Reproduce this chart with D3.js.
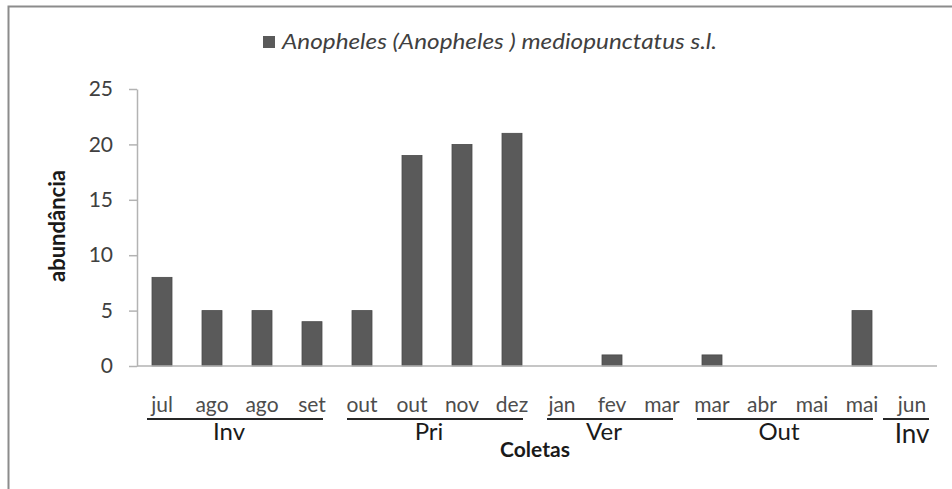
<!DOCTYPE html>
<html>
<head>
<meta charset="utf-8">
<script src="https://cdn.jsdelivr.net/npm/d3@7"></script>
<style>
  body { margin: 0; background: #fff; }
  svg { display: block; font-family: Lato, 'Open Sans', sans-serif; }
</style>
</head>
<body>
<svg width="952" height="489"></svg>
<script>
// data
const months = ['jul', 'ago', 'ago', 'set', 'out', 'out', 'nov', 'dez',
  'jan', 'fev', 'mar', 'mar', 'abr', 'mai', 'mai', 'jun'];
const abundance = [8, 5, 5, 4, 5, 19, 20, 21, 0, 1, 0, 1, 0, 0, 5, 0];
const seasons = ['Inv', 'Pri', 'Ver', 'Out', 'Inv'];
const seasonSpan = [[0, 3], [4, 7], [8, 10], [11, 14], [15, 15]];
const yTicks = [0, 5, 10, 15, 20, 25];
const seriesName = 'Anopheles (Anopheles ) mediopunctatus s.l.';

const svg = d3.select('svg');
const plotLeft = 137, plotRight = 937, plotTop = 89, plotBottom = 366;

// outer frame, cut off at right and bottom like the source
svg.append('rect')
  .attr('x', 8.5).attr('y', 6.5)
  .attr('width', 1000).attr('height', 1000)
  .attr('fill', 'none')
  .attr('stroke', '#8c8c8c')
  .attr('stroke-width', 2);

const x = d3.scaleBand()
  .domain(d3.range(months.length))
  .range([plotLeft, plotRight])
  .paddingInner(0.6)
  .paddingOuter(0.3);

const y = d3.scaleLinear().domain([0, 25]).range([plotBottom, plotTop]);

// y axis
const yAxis = svg.append('g')
  .attr('transform', `translate(${plotLeft},0)`)
  .call(d3.axisLeft(y).tickValues(yTicks).tickSize(8).tickPadding(16).tickSizeOuter(0));
yAxis.selectAll('line, path').attr('stroke', '#b3b3b3').attr('stroke-width', 1.5);
yAxis.selectAll('text')
  .attr('font-size', 21)
  .attr('fill', '#404040')
  .attr('font-family', 'Lato, sans-serif');

// bars
svg.append('g')
  .selectAll('rect')
  .data(abundance)
  .join('rect')
  .attr('x', (d, i) => x(i))
  .attr('y', d => y(d))
  .attr('width', x.bandwidth())
  .attr('height', d => y(0) - y(d))
  .attr('fill', '#5a5a5a')
  .attr('stroke', '#4a4a4a')
  .attr('stroke-width', 0.8);

// x axis line
svg.append('line')
  .attr('x1', plotLeft).attr('x2', plotRight)
  .attr('y1', plotBottom).attr('y2', plotBottom)
  .attr('stroke', '#b3b3b3')
  .attr('stroke-width', 1.5);

// month labels
svg.append('g')
  .selectAll('text')
  .data(months)
  .join('text')
  .attr('x', (d, i) => x(i) + x.bandwidth() / 2)
  .attr('y', 412)
  .attr('text-anchor', 'middle')
  .attr('font-size', 21)
  .attr('fill', '#4d4d4d')
  .text(d => d);

// season brackets
const step = x.step();
const sg = svg.append('g');
seasonSpan.forEach((s, k) => {
  const x0 = plotLeft + s[0] * step + 10;
  const x1 = plotLeft + (s[1] + 1) * step - 14;
  sg.append('line')
    .attr('x1', k === 4 ? x0 - 14 : x0).attr('x2', k === 4 ? x1 + 6 : x1)
    .attr('y1', 419).attr('y2', 419)
    .attr('stroke', '#262626')
    .attr('stroke-width', 2);
  sg.append('text')
    .attr('x', (x0 + x1) / 2 - (k === 4 ? -2 : 6))
    .attr('y', k === 4 ? 443 : 440)
    .attr('text-anchor', 'middle')
    .attr('font-size', k === 4 ? 26 : 24)
    .attr('fill', '#1a1a1a')
    .text(seasons[k]);
});

// axis titles
svg.append('text')
  .attr('x', 535).attr('y', 457)
  .attr('text-anchor', 'middle')
  .attr('font-size', 21)
  .attr('font-weight', 'bold')
  .attr('fill', '#1a1a1a')
  .text('Coletas');

svg.append('text')
  .attr('transform', 'translate(65,226) rotate(-90)')
  .attr('text-anchor', 'middle')
  .attr('font-size', 22)
  .attr('font-weight', 'bold')
  .attr('fill', '#1a1a1a')
  .text('abundância');

// legend
const lg = svg.append('g').attr('transform', 'translate(263,36)');
lg.append('rect')
  .attr('width', 12).attr('height', 12)
  .attr('fill', '#5a5a5a');
lg.append('text')
  .attr('x', 19).attr('y', 13)
  .attr('font-size', 22)
  .attr('font-style', 'italic')
  .attr('fill', '#404040')
  .attr('textLength', 435)
  .attr('lengthAdjust', 'spacingAndGlyphs')
  .text(seriesName);
</script>
</body>
</html>
